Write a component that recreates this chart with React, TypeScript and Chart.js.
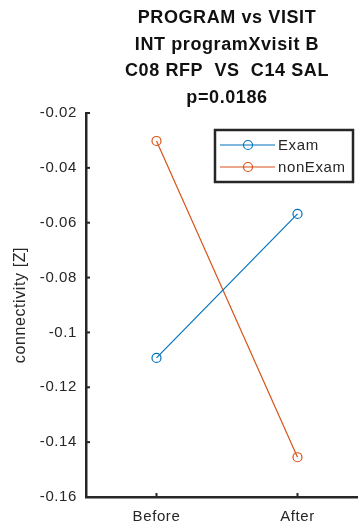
import React, { useEffect, useRef } from "react";
import { Chart, registerables } from "chart.js";

Chart.register(...registerables);

const categories = ["Before", "After"];
const seriesNames = ["Exam", "nonExam"];
const examValues = [-0.1093, -0.0568];
const nonExamValues = [-0.0302, -0.1455];
const seriesColors = ["#0072BD", "#D95319"];
const yMin = -0.16;
const yMax = -0.02;
const yStep = 0.02;
const titleLines = [
  "PROGRAM vs VISIT",
  "INT programXvisit B",
  "C08 RFP  VS  C14 SAL",
  "p=0.0186",
];
const yAxisTitle = "connectivity [Z]";

const FONT = "'Liberation Sans', Arial, Helvetica, sans-serif";
const AXIS_COLOR = "#262626";
const SPACING = "0.6px";

const spacingPlugin = {
  id: "letterSpacing",
  beforeInit(chart: any) {
    chart.ctx.letterSpacing = SPACING;
  },
  beforeUpdate(chart: any) {
    chart.ctx.letterSpacing = SPACING;
  },
  beforeDraw(chart: any) {
    chart.ctx.letterSpacing = SPACING;
  },
};

const matlabPlugin = {
  id: "matlabDecor",
  afterDraw(chart: any) {
    const ctx = chart.ctx;
    const area = chart.chartArea;
    const xs = chart.scales.x;
    const ys = chart.scales.y;
    ctx.save();
    ctx.letterSpacing = SPACING;
    // inward ticks
    ctx.strokeStyle = AXIS_COLOR;
    ctx.lineWidth = 2;
    ys.ticks.forEach((t: any) => {
      const py = ys.getPixelForValue(t.value);
      ctx.beginPath();
      ctx.moveTo(area.left, py);
      ctx.lineTo(area.left + 4, py);
      ctx.stroke();
    });
    xs.ticks.forEach((t: any) => {
      const px = xs.getPixelForValue(t.value);
      ctx.beginPath();
      ctx.moveTo(px, area.bottom);
      ctx.lineTo(px, area.bottom - 4);
      ctx.stroke();
    });
    // title
    const cx = (area.left + area.right) / 2;
    ctx.fillStyle = "#111111";
    ctx.font = `bold 18px ${FONT}`;
    ctx.textAlign = "center";
    ctx.textBaseline = "middle";
    titleLines.forEach((line, i) => {
      ctx.fillText(line, cx, 18.5 + i * 26.5);
    });
    // legend
    const lx = area.left + 129;
    const ly = area.top + 17;
    const lw = 138;
    const lh = 52;
    ctx.fillStyle = "#ffffff";
    ctx.fillRect(lx, ly, lw, lh);
    ctx.strokeStyle = AXIS_COLOR;
    ctx.lineWidth = 2.5;
    ctx.strokeRect(lx, ly, lw, lh);
    ctx.font = `15px ${FONT}`;
    ctx.textAlign = "left";
    ctx.textBaseline = "middle";
    chart.data.datasets.forEach((ds: any, i: number) => {
      const ry = ly + 15 + i * 22;
      ctx.strokeStyle = ds.borderColor;
      ctx.lineWidth = 1.2;
      ctx.beginPath();
      ctx.moveTo(lx + 5, ry);
      ctx.lineTo(lx + 60, ry);
      ctx.stroke();
      ctx.beginPath();
      ctx.arc(lx + 33, ry, 4.5, 0, Math.PI * 2);
      ctx.stroke();
      ctx.fillStyle = AXIS_COLOR;
      ctx.fillText(ds.label, lx + 63, ry + 1);
    });
    ctx.restore();
  },
};

export default function App() {
  const canvasRef = useRef<HTMLCanvasElement | null>(null);

  useEffect(() => {
    if (!canvasRef.current) return;
    const allSeries = [examValues, nonExamValues];
    const chart = new Chart(canvasRef.current, {
      type: "line",
      data: {
        datasets: allSeries.map((vals, si) => ({
          label: seriesNames[si],
          data: vals.map((v, i) => ({ x: i + 1, y: v })),
          borderColor: seriesColors[si],
          backgroundColor: "rgba(0,0,0,0)",
          borderWidth: 1.2,
          pointRadius: 4.5,
          pointBorderWidth: 1.2,
          pointBackgroundColor: "rgba(0,0,0,0)",
          pointBorderColor: seriesColors[si],
          tension: 0,
          fill: false,
        })),
      },
      options: {
        animation: false,
        responsive: true,
        maintainAspectRatio: false,
        layout: { padding: { top: 113, right: 12, left: 0, bottom: 0 } },
        plugins: {
          legend: { display: false },
          title: { display: false },
          tooltip: { enabled: false },
        },
        scales: {
          x: {
            type: "linear",
            min: 0.5,
            max: 2.5,
            grid: { display: false, drawTicks: false },
            border: { display: true, color: AXIS_COLOR, width: 2.5 },
            afterBuildTicks: (scale: any) => {
              scale.ticks = categories.map((_, i) => ({ value: i + 1 }));
            },
            afterFit: (scale: any) => {
              scale.height = 30;
            },
            ticks: {
              padding: 11,
              color: AXIS_COLOR,
              font: { family: FONT, size: 15 },
              maxRotation: 0,
              autoSkip: false,
              callback: (v: any) => categories[Math.round(Number(v)) - 1] ?? "",
            },
          },
          y: {
            type: "linear",
            min: yMin,
            max: yMax,
            grid: { display: false, drawTicks: false },
            border: { display: true, color: AXIS_COLOR, width: 2.5 },
            afterFit: (scale: any) => {
              scale.width = 86;
            },
            ticks: {
              stepSize: yStep,
              padding: 9,
              color: AXIS_COLOR,
              font: { family: FONT, size: 15 },
              callback: (v: any) => String(Number(Number(v).toFixed(2))),
            },
            title: {
              display: true,
              text: yAxisTitle,
              color: AXIS_COLOR,
              font: { family: FONT, size: 16 },
              padding: { top: 11, bottom: 0 },
            },
          },
        },
      },
      plugins: [spacingPlugin, matlabPlugin],
    });
    return () => chart.destroy();
  }, []);

  return (
    <div
      style={{
        position: "fixed",
        left: 0,
        top: 0,
        width: 358,
        height: 527,
        overflow: "hidden",
        background: "#ffffff",
      }}
    >
      <div style={{ position: "relative", width: 380, height: 527 }}>
        <canvas ref={canvasRef} />
      </div>
    </div>
  );
}
